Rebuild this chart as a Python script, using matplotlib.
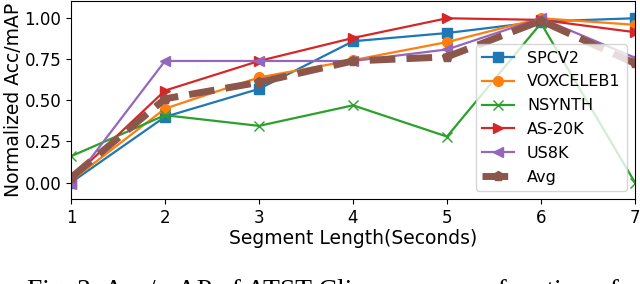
import matplotlib
matplotlib.use("Agg")
import matplotlib.pyplot as plt

segments = [1, 2, 3, 4, 5, 6, 7]
spcv2 = [0.00, 0.40, 0.57, 0.86, 0.91, 0.98, 1.00]
voxceleb1 = [0.01, 0.45, 0.64, 0.745, 0.855, 1.00, 0.96]
nsynth = [0.16, 0.41, 0.345, 0.47, 0.28, 0.97, 0.00]
as20k = [0.02, 0.56, 0.74, 0.88, 1.00, 0.99, 0.915]
us8k = [-0.01, 0.74, 0.74, 0.74, 0.81, 1.00, 0.76]
avg = [0.03, 0.51, 0.61, 0.74, 0.765, 0.985, 0.725]

series = [
    ("SPCV2", spcv2, "tab:blue", "s"),
    ("VOXCELEB1", voxceleb1, "tab:orange", "o"),
    ("NSYNTH", nsynth, "tab:green", "x"),
    ("AS-20K", as20k, "tab:red", ">"),
    ("US8K", us8k, "tab:purple", "<"),
]

fig = plt.figure(figsize=(6.4, 2.84), dpi=100)
ax = fig.add_axes([71 / 640, 1 - 199 / 284, (635 - 71) / 640, 198 / 284])

for name, vals, col, mk in series:
    ax.plot(segments, vals, color=col, marker=mk, lw=1.6, ms=7, label=name)
ax.plot(segments, avg, color="tab:brown", marker="p", lw=5, ls="--", ms=7,
        label="Avg")

ax.set_xlim(1, 7)
ax.set_ylim(-0.1, 1.105)
ax.set_yticks([0.0, 0.25, 0.5, 0.75, 1.0])
ax.set_xticks(segments)
ax.tick_params(labelsize=12)
ax.set_xlabel("Segment Length(Seconds)", fontsize=13.5, labelpad=2)
ax.set_ylabel("Normalized Acc/mAP", fontsize=13.5, labelpad=1)
ax.legend(loc="lower right", fontsize=11.5, handlelength=2.0,
          labelspacing=0.55, borderpad=0.4)

fig.text(27 / 640, 1 - 298 / 284,
         "Fig. 3: Acc/mAP of ATST-Clip scores as a function of",
         family="Liberation Serif", fontsize=19.8, va="baseline", ha="left")

fig.savefig("out.png", dpi=100)
